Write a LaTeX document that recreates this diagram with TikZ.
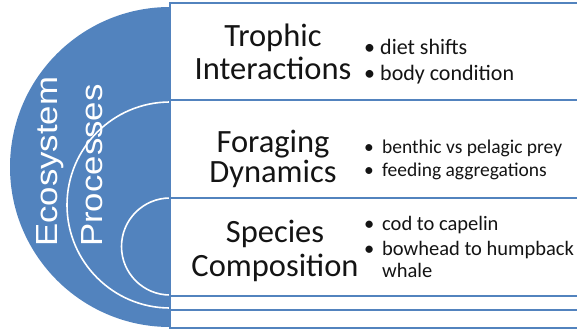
\documentclass[tikz,border=0pt]{standalone}
\usepackage{fontspec}
\setmainfont{Carlito}
\newfontfamily\rotfont{Liberation Sans}
\definecolor{ecoblue}{RGB}{82,131,190}
\definecolor{inktext}{RGB}{20,20,20}
\begin{document}
\begin{tikzpicture}[x=1pt, y=-1pt,
  panel/.style={draw=ecoblue, line width=2pt, fill=white},
  ring/.style={draw=white, line width=1.6pt},
  heading/.style={font=\fontsize{32.5}{33}\selectfont, text=inktext, inner sep=0pt, anchor=base},
  item/.style={text=inktext, inner sep=0pt, anchor=base west},
  sidelabel/.style={font=\rotfont\fontsize{30.5}{32}\selectfont, text=white, inner sep=0pt, rotate=90, anchor=base west}
]
\useasboundingbox (0,0) rectangle (577,329);
\begin{scope}
  \clip (0,0) rectangle (577,329);
  % half disc with the nested white rings
  \fill[ecoblue] (170,7) arc[start angle=270, end angle=90, radius=160] -- cycle;
  \draw[ring] (170,102) arc[start angle=270, end angle=90, radius=103];
  \draw[ring] (170,198) arc[start angle=270, end angle=90, radius=48.5];
  % text panels
  \draw[panel] (170,3) rectangle (600,100);
  \draw[panel] (170,100) rectangle (600,198);
  \draw[panel] (170,198) rectangle (600,296);
  \draw[panel] (170,296) rectangle (600,310);
  \draw[panel] (170,310) rectangle (600,328);
\end{scope}

% vertical title
\node[sidelabel] (eco) at (57,247) {\scalebox{1.14}[1]{Ecosystem}};
\node[sidelabel] (proc) at (102,247) {\scalebox{1.14}[1]{Processes}};

% panel headings
\node[heading] (trophic) at (273,47) {Trophic};
\node[heading] (interactions) at (273,79) {Interactions};
\node[heading] (foraging) at (273,152) {Foraging};
\node[heading] (dynamics) at (273,182) {Dynamics};
\node[heading] (species) at (275,242) {Species};
\node[heading] (composition) at (275,276) {Composition};

% bullet points
\node[item, font=\fontsize{22}{26}\selectfont] (diet) at (364,55) {\makebox[16pt][l]{•}diet shifts};
\node[item, font=\fontsize{22}{26}\selectfont] (body) at (364,80) {\makebox[16pt][l]{•}body condition};
\node[item, font=\fontsize{19.5}{23}\selectfont] (benthic) at (364,153) {\makebox[18pt][l]{•}benthic vs pelagic prey};
\node[item, font=\fontsize{19.5}{23}\selectfont] (feeding) at (364,176) {\makebox[18pt][l]{•}feeding aggregations};
\node[item, font=\fontsize{20.5}{23}\selectfont] (cod) at (364,230) {\makebox[18pt][l]{•}cod to capelin};
\node[item, font=\fontsize{20.5}{23}\selectfont] (bowhead) at (364,255) {\makebox[18pt][l]{•}bowhead to humpback};
\node[item, font=\fontsize{20.5}{23}\selectfont] (whale) at (382,277) {whale};
\end{tikzpicture}
\end{document}
